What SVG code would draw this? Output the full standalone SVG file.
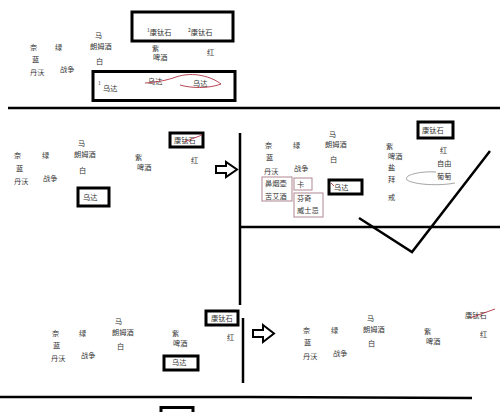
<svg xmlns="http://www.w3.org/2000/svg" width="500" height="412" viewBox="0 0 500 412">
<style>
text{font-family:"Noto Sans CJK SC","Liberation Sans",sans-serif;font-size:7.2px;fill:#333}
.sup{font-size:5px}
.bx{fill:none;stroke:#000;stroke-width:3}
.pk{fill:none;stroke:#b08890;stroke-width:1}
.ln{fill:none;stroke:#000;stroke-width:2.5}
.red{fill:none;stroke:#b03040;stroke-width:0.9}
.gry{fill:none;stroke:#999;stroke-width:0.9}
.arr{fill:#fff;stroke:#000;stroke-width:2;stroke-linejoin:miter}
</style>
<rect width="500" height="412" fill="#fff"/>

<g id="connectors">
<line class="ln" x1="8" y1="108" x2="500" y2="108" stroke-width="3"/>
<polyline class="ln" points="240,133 240,305"/>
<polyline class="ln" points="243,318 243,383"/>
<line class="ln" x1="240" y1="227" x2="500" y2="227"/>
<polyline class="ln" points="359,218 412,252 490,151"/>
<polyline class="ln" points="0,397 250,397 472,398"/>
<path class="arr" d="M216,166 L226,166 L226,162 L237,169.5 L226,177 L226,173 L216,173 Z"/>
<path class="arr" d="M253,330 L263,330 L263,325 L274,333.5 L263,342 L263,337 L253,337 Z"/>
</g>

<g id="sec1">
<g id="s1-box1"><rect class="bx" x="132" y="12" width="101" height="29"/>
<text x="147" y="35"><tspan class="sup" dy="-3">1</tspan><tspan dy="3">康钛石</tspan></text>
<text x="188" y="35"><tspan class="sup" dy="-3">2</tspan><tspan dy="3">康钛石</tspan></text></g>
<g id="s1-labels">
<text x="30" y="50">奈</text><text x="55" y="50">绿</text><text x="32" y="62">蓝</text><text x="30" y="75">丹沃</text><text x="60" y="72">战争</text>
<text x="95" y="38">马</text><text x="90" y="49">朗姆酒</text><text x="96" y="64">白</text>
<text x="152" y="51">紫</text><text x="153" y="60">啤酒</text><text x="207" y="55">红</text></g>
<g id="s1-box2"><rect class="bx" x="93" y="71.5" width="142" height="29"/>
<text class="sup" x="98" y="85">1</text>
<text x="103" y="91">乌达</text>
<text x="148" y="84">乌达</text>
<text x="193" y="86">乌达</text>
<path class="red" d="M145,83 C158,82 168,80 176,77 C194,71 212,77 221,84 C208,89 190,88 180,85"/></g>
</g>

<g id="sec2left">
<g id="s2-kts"><rect class="bx" x="170" y="133" width="33" height="14"/><text x="174" y="143">康钛石</text><line class="red" x1="184" y1="142" x2="202" y2="135"/></g>
<text x="78" y="146">马</text><text x="74" y="157">朗姆酒</text><text x="79" y="173">白</text>
<text x="14" y="158">奈</text><text x="42" y="158">绿</text><text x="16" y="171">蓝</text><text x="14" y="184">丹沃</text><text x="43" y="181">战争</text>
<text x="135" y="160">紫</text><text x="137" y="170">啤酒</text><text x="191" y="163">红</text>
<g id="s2-wd"><rect class="bx" x="78" y="188" width="31" height="18"/><text x="83" y="200">乌达</text></g>
</g>

<g id="sec2right">
<g id="s2r-kts"><rect class="bx" x="418" y="122" width="35" height="16"/><text x="422" y="133">康钛石</text></g>
<text x="329" y="137">马</text><text x="325" y="147">朗姆酒</text><text x="330" y="162">白</text>
<text x="265" y="148">奈</text><text x="293" y="148">绿</text><text x="266" y="160">蓝</text><text x="264" y="174">丹沃</text><text x="294" y="171">战争</text>
<g id="s2r-snuff"><rect class="pk" x="262" y="177" width="30" height="24"/><text x="265" y="186">鼻烟壶</text><text x="265" y="199">苦艾酒</text></g>
<g id="s2r-ka"><rect class="pk" x="294" y="178" width="18" height="12"/><text x="297" y="187">卡</text></g>
<g id="s2r-fq"><rect class="pk" x="294" y="193" width="29" height="24"/><text x="297" y="201">芬奇</text><text x="297" y="213">威士忌</text></g>
<g id="s2r-wd"><rect class="bx" x="329" y="180" width="33" height="14"/><text x="334" y="190">乌达</text><line class="red" x1="331" y1="183" x2="334" y2="186"/></g>
<text x="386" y="149">紫</text><text x="388" y="159">啤酒</text><text x="388" y="170">盐</text><text x="388" y="182">拜</text><text x="388" y="200">戒</text>
<text x="440" y="153">红</text><text x="437" y="166">自由</text><text x="437" y="179">葡萄</text>
<path class="gry" d="M455,183 C440,186 415,185 407,180 C403,175 420,171 436,172"/>
</g>

<g id="sec3left">
<g id="s3-kts"><rect class="bx" x="206" y="311" width="32" height="14"/><text x="211" y="321">康钛石</text></g>
<text x="115" y="324">马</text><text x="112" y="335">朗姆酒</text><text x="117" y="349">白</text>
<text x="52" y="336">奈</text><text x="79" y="336">绿</text><text x="53" y="348">蓝</text><text x="51" y="361">丹沃</text><text x="81" y="358">战争</text>
<text x="172" y="336">紫</text><text x="173" y="346">啤酒</text><text x="227" y="340">红</text>
<g id="s3-wd"><rect class="bx" x="164" y="356" width="34" height="14"/><text x="172" y="365">乌达</text></g>
<g id="s3-bottom"><rect class="bx" x="161" y="407.5" width="32" height="10"/></g>
</g>

<g id="sec3right">
<text x="367" y="321">马</text><text x="363" y="332">朗姆酒</text><text x="368" y="346">白</text>
<text x="303" y="333">奈</text><text x="331" y="333">绿</text><text x="304" y="345">蓝</text><text x="303" y="359">丹沃</text><text x="333" y="356">战争</text>
<text x="424" y="334">紫</text><text x="426" y="344">啤酒</text><text x="480" y="337">红</text>
<g id="s3r-kts"><text x="465" y="318">康钛石</text><line class="red" x1="470" y1="318" x2="495" y2="309"/></g>
</g>
</svg>
